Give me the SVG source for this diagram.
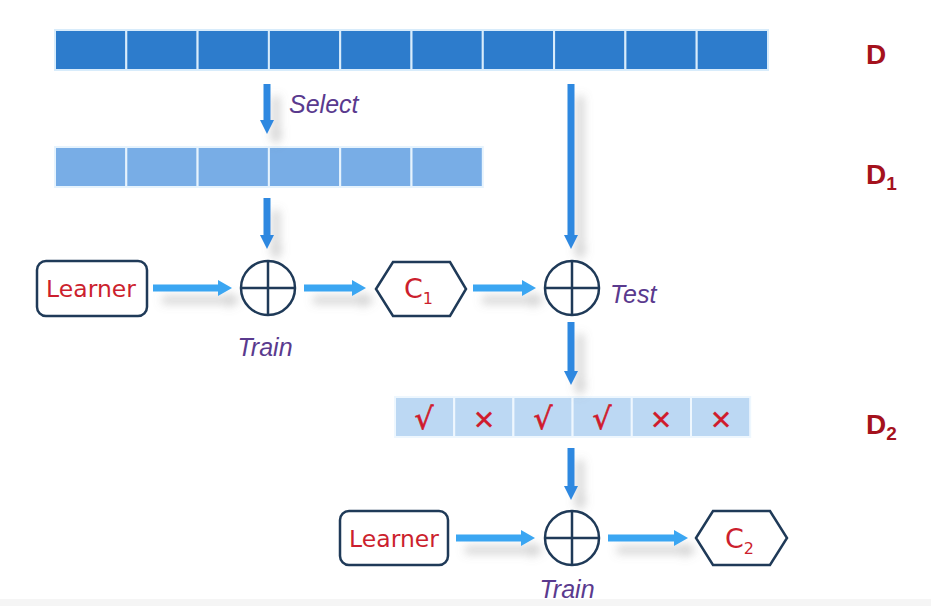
<svg xmlns="http://www.w3.org/2000/svg" width="931" height="606" viewBox="0 0 931 606">
<style>
.dcell{fill:#2d7ccc;stroke:#d8ecfb;stroke-width:2}
.d1cell{fill:#78ade6;stroke:#e6f3fd;stroke-width:2}
.d2cell{fill:#bcd8f3;stroke:#eef7fe;stroke-width:2}
.box{fill:#fff;stroke:#1f3a58;stroke-width:2.5}
.circ{fill:#fff;stroke:#1f3a58;stroke-width:2.5}
.cross{stroke:#1f3a58;stroke-width:2.5}
.red{fill:#cc1f2e;font-family:"DejaVu Sans",sans-serif;font-size:23.5px}
.cc{fill:#cc1f2e;font-family:"DejaVu Sans",sans-serif;font-size:27px}
.lbl{fill:#5a3a8e;font-family:"Liberation Sans",Arial,sans-serif;font-style:italic;font-size:25px}
.dl{fill:#a5121d;font-family:"Liberation Sans",Arial,sans-serif;font-weight:bold;font-size:28px}
.sym{fill:#d01a2c;stroke:#d01a2c;stroke-width:0.6;font-family:"DejaVu Sans",sans-serif;text-anchor:middle}
.ck{font-size:30px}
.x{font-size:27px}
.v{stroke:#2e88e0;stroke-width:7;fill:none}
.h{stroke:#3aa6f2;stroke-width:7;fill:none}
</style>
<defs>
<marker id="av" markerUnits="userSpaceOnUse" markerWidth="16" markerHeight="14" refX="2" refY="7" orient="auto"><path d="M0,0 L14,7 L0,14 Z" fill="#2e88e0"/></marker>
<marker id="ah" markerUnits="userSpaceOnUse" markerWidth="16" markerHeight="16" refX="2" refY="8" orient="auto"><path d="M0,0 L14,8 L0,16 Z" fill="#3aa6f2"/></marker>
<filter id="sh" x="-50%" y="-50%" width="200%" height="200%"><feDropShadow dx="9" dy="12" stdDeviation="5" flood-color="#777" flood-opacity="0.35"/></filter>
</defs>
<rect width="931" height="606" fill="#fff"/>
<rect x="0" y="599" width="931" height="7" fill="#f5f5f5"/>

<g id="D">
<rect class="dcell" x="55" y="30" width="71.3" height="40"/>
<rect class="dcell" x="126.3" y="30" width="71.3" height="40"/>
<rect class="dcell" x="197.6" y="30" width="71.3" height="40"/>
<rect class="dcell" x="268.9" y="30" width="71.3" height="40"/>
<rect class="dcell" x="340.2" y="30" width="71.3" height="40"/>
<rect class="dcell" x="411.5" y="30" width="71.3" height="40"/>
<rect class="dcell" x="482.8" y="30" width="71.3" height="40"/>
<rect class="dcell" x="554.1" y="30" width="71.3" height="40"/>
<rect class="dcell" x="625.4" y="30" width="71.3" height="40"/>
<rect class="dcell" x="696.7" y="30" width="71.3" height="40"/>
</g>
<g id="D1">
<rect class="d1cell" x="55" y="147" width="71.3" height="40"/>
<rect class="d1cell" x="126.3" y="147" width="71.3" height="40"/>
<rect class="d1cell" x="197.6" y="147" width="71.3" height="40"/>
<rect class="d1cell" x="268.9" y="147" width="71.3" height="40"/>
<rect class="d1cell" x="340.2" y="147" width="71.3" height="40"/>
<rect class="d1cell" x="411.5" y="147" width="71.3" height="40"/>
</g>
<g id="D2">
<rect class="d2cell" x="395" y="397" width="59.2" height="40"/>
<rect class="d2cell" x="454.2" y="397" width="59.2" height="40"/>
<rect class="d2cell" x="513.4" y="397" width="59.2" height="40"/>
<rect class="d2cell" x="572.6" y="397" width="59.2" height="40"/>
<rect class="d2cell" x="631.8" y="397" width="59.2" height="40"/>
<rect class="d2cell" x="691" y="397" width="59.2" height="40"/>
<text class="sym ck" x="424" y="429">√</text>
<text class="sym x" x="484" y="428">×</text>
<text class="sym ck" x="543" y="429">√</text>
<text class="sym ck" x="602" y="429">√</text>
<text class="sym x" x="661" y="428">×</text>
<text class="sym x" x="721" y="428">×</text>
</g>

<g id="connectors" filter="url(#sh)">
<line class="v" x1="267" y1="84" x2="267" y2="122" marker-end="url(#av)"/>
<line class="v" x1="571" y1="84" x2="571" y2="237" marker-end="url(#av)"/>
<line class="v" x1="267" y1="198" x2="267" y2="237" marker-end="url(#av)"/>
<line class="h" x1="153" y1="288" x2="220" y2="288" marker-end="url(#ah)"/>
<line class="h" x1="304" y1="288" x2="354" y2="288" marker-end="url(#ah)"/>
<line class="h" x1="473" y1="288" x2="524" y2="288" marker-end="url(#ah)"/>
<line class="v" x1="571" y1="322" x2="571" y2="373" marker-end="url(#av)"/>
<line class="v" x1="571" y1="448" x2="571" y2="488" marker-end="url(#av)"/>
<line class="h" x1="456" y1="538" x2="523" y2="538" marker-end="url(#ah)"/>
<line class="h" x1="608" y1="538" x2="676" y2="538" marker-end="url(#ah)"/>
</g>

<g id="learner1">
<rect class="box" x="37" y="261" width="110" height="55" rx="9"/>
<text class="red" x="91" y="297" text-anchor="middle">Learner</text>
</g>
<g id="train1">
<circle class="circ" cx="268" cy="288" r="27"/>
<line class="cross" x1="241" y1="288" x2="295" y2="288"/>
<line class="cross" x1="268" y1="261" x2="268" y2="315"/>
<text class="lbl" x="265" y="356" text-anchor="middle">Train</text>
</g>
<g id="c1">
<polygon class="box" points="376,289 393,262 450,262 466,289 450,316 393,316"/>
<text class="cc" x="404" y="298">C<tspan font-size="16" dy="6">1</tspan></text>
</g>
<g id="test">
<circle class="circ" cx="572" cy="288" r="27"/>
<line class="cross" x1="545" y1="288" x2="599" y2="288"/>
<line class="cross" x1="572" y1="261" x2="572" y2="315"/>
<text class="lbl" x="610" y="303">Test</text>
</g>
<g id="learner2">
<rect class="box" x="340" y="511" width="108" height="54" rx="9"/>
<text class="red" x="394" y="547" text-anchor="middle">Learner</text>
</g>
<g id="train2">
<circle class="circ" cx="572" cy="538" r="27"/>
<line class="cross" x1="545" y1="538" x2="599" y2="538"/>
<line class="cross" x1="572" y1="511" x2="572" y2="565"/>
<text class="lbl" x="567" y="598" text-anchor="middle">Train</text>
</g>
<g id="c2">
<polygon class="box" points="696,538 713,511 770,511 787,538 770,565 713,565"/>
<text class="cc" x="725" y="548">C<tspan font-size="16" dy="6">2</tspan></text>
</g>

<g id="labels">
<text class="lbl" x="289" y="113">Select</text>
<text class="dl" x="866" y="64">D</text>
<text class="dl" x="866" y="184">D<tspan font-size="19" dy="6">1</tspan></text>
<text class="dl" x="866" y="434">D<tspan font-size="19" dy="6">2</tspan></text>
</g>
</svg>
